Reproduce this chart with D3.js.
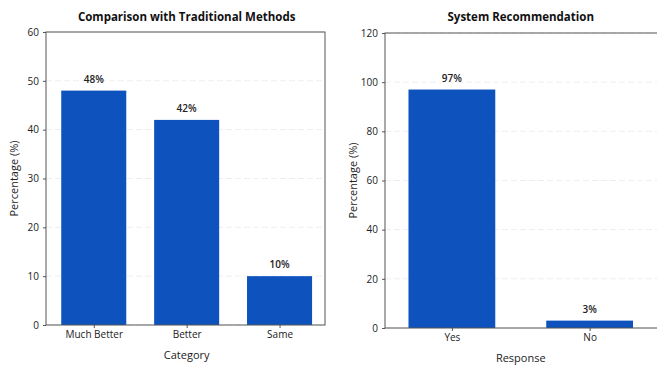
<!DOCTYPE html>
<html>
<head>
<meta charset="utf-8">
<script src="https://cdn.jsdelivr.net/npm/d3@7"></script>
<style>
  html, body { margin: 0; padding: 0; background: #fff; }
  svg { display: block; font-family: "Open Sans", "Noto Sans", sans-serif; }
</style>
</head>
<body>
<svg id="chart" width="657" height="366"></svg>
<script>
// Survey results: comparison with traditional methods
const comparisonCategories = ["Much Better", "Better", "Same"];
const comparisonValues = [48, 42, 10];
const comparisonTicks = [0, 10, 20, 30, 40, 50, 60];

// Survey results: would users recommend the system
const recommendCategories = ["Yes", "No"];
const recommendValues = [97, 3];
const recommendTicks = [0, 20, 40, 60, 80, 100, 120];

const barColor = "#0d52bd";
const svg = d3.select("#chart");

function drawPanel(opts) {
  const { left, right, frameLeft, frameRight, top, bottom, title, xLabel,
          categories, values, ticks, yMax, barWidth } = opts;
  const g = svg.append("g");

  const x = d3.scaleLinear().domain([-0.5, categories.length - 0.5]).range([left, right]);
  const y = d3.scaleLinear().domain([0, yMax]).range([bottom, top]);

  // faint dashed grid
  g.append("g").selectAll("line").data(ticks).join("line")
    .attr("x1", frameLeft).attr("x2", frameRight)
    .attr("y1", d => y(d)).attr("y2", d => y(d))
    .attr("stroke", "#eceef2").attr("stroke-width", 1)
    .attr("stroke-dasharray", "6,3");

  // bars
  g.append("g").selectAll("rect").data(values).join("rect")
    .attr("x", (d, i) => x(i - barWidth / 2))
    .attr("width", (d, i) => x(i + barWidth / 2) - x(i - barWidth / 2))
    .attr("y", d => y(d))
    .attr("height", d => y(0) - y(d))
    .attr("fill", barColor);

  // value labels
  g.append("g").selectAll("text").data(values).join("text")
    .attr("x", (d, i) => x(i))
    .attr("y", d => y(d) - 8)
    .attr("text-anchor", "middle")
    .attr("font-size", 10)
    .attr("font-weight", 600)
    .attr("fill", "#222")
    .text(d => d + "%");

  // frame
  g.append("rect")
    .attr("x", frameLeft).attr("y", top)
    .attr("width", frameRight - frameLeft).attr("height", bottom - top)
    .attr("fill", "none").attr("stroke", "#555").attr("stroke-width", 1);

  // y axis
  const yAxis = d3.axisLeft(y).tickValues(ticks).tickSize(3).tickPadding(4);
  const ya = g.append("g").attr("transform", `translate(${frameLeft},0)`).call(yAxis);
  ya.select(".domain").remove();
  ya.selectAll("line").attr("stroke", "#555");
  ya.selectAll("text").attr("font-size", 10).attr("fill", "#222").attr("font-family", "Open Sans, sans-serif");

  // x axis
  const xAxis = d3.axisBottom(x).tickValues(d3.range(categories.length))
    .tickFormat(i => categories[i]).tickSize(3).tickPadding(3);
  const xa = g.append("g").attr("transform", `translate(0,${bottom})`).call(xAxis);
  xa.select(".domain").remove();
  xa.selectAll("line").attr("stroke", "#555");
  xa.selectAll("text").attr("font-size", 10).attr("fill", "#222").attr("font-family", "Open Sans, sans-serif");

  const mid = (left + right) / 2;

  // title
  g.append("text")
    .attr("x", mid).attr("y", 21)
    .attr("text-anchor", "middle")
    .attr("font-size", 11.5).attr("font-weight", 700).attr("fill", "#111")
    .text(title);

  // x label
  g.append("text")
    .attr("x", mid).attr("y", bottom + 34)
    .attr("text-anchor", "middle")
    .attr("font-size", 11).attr("fill", "#222")
    .text(xLabel);

  // y label
  g.append("text")
    .attr("transform", `translate(${frameLeft - 28},${(top + bottom) / 2}) rotate(-90)`)
    .attr("text-anchor", "middle")
    .attr("font-size", 11).attr("fill", "#222")
    .text("Percentage (%)");
}

drawPanel({
  left: 47.3, right: 326, frameLeft: 46, frameRight: 325, top: 32, bottom: 325,
  title: "Comparison with Traditional Methods", xLabel: "Category",
  categories: comparisonCategories, values: comparisonValues,
  ticks: comparisonTicks, yMax: 60, barWidth: 0.7
});

drawPanel({
  left: 383, right: 658.5, frameLeft: 385, frameRight: 662, top: 33, bottom: 328,
  title: "System Recommendation", xLabel: "Response",
  categories: recommendCategories, values: recommendValues,
  ticks: recommendTicks, yMax: 120, barWidth: 0.63
});
</script>
</body>
</html>
